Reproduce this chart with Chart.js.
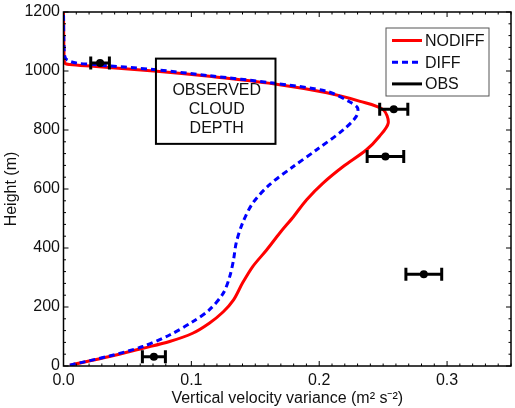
<!DOCTYPE html>
<html>
<head>
<meta charset="utf-8">
<script src="https://cdn.jsdelivr.net/npm/chart.js@4.4.0/dist/chart.umd.min.js"></script>
<style>
  html, body { margin: 0; padding: 0; background: #fff; }
</style>
</head>
<body>
<canvas id="varianceChart" width="515" height="408"></canvas>
<script>
/* ================= DATA ================= */

// NODIFF run: variance (m2 s-2) against height (m)
const nodiffX = [0.005, 0.036, 0.062, 0.083, 0.101, 0.114, 0.125, 0.133, 0.140, 0.148, 0.159, 0.169, 0.180, 0.190,
                 0.203, 0.219, 0.237, 0.247, 0.254, 0.250, 0.232, 0.206, 0.164, 0.114, 0.073, 0.023, 0.005, 0.001,
                 0.0004, 0.0];
const nodiffH = [3, 32, 60, 83, 111, 145, 184, 224, 281, 337, 394, 450, 507, 563,
                 620, 677, 733, 778, 824, 869, 897, 926, 957, 982, 999, 1016, 1022, 1027,
                 1061, 1200];

// DIFF run
const diffX = [0.005, 0.036, 0.062, 0.083, 0.101, 0.114, 0.125, 0.130, 0.133, 0.135, 0.140, 0.148, 0.161, 0.180,
               0.198, 0.219, 0.229, 0.230, 0.224, 0.206, 0.164, 0.114, 0.073, 0.023, 0.010, 0.003, 0.001, 0.0003,
               0.0];
const diffH = [3, 34, 66, 105, 150, 190, 247, 303, 360, 416, 484, 552, 614, 677,
               733, 801, 846, 875, 895, 931, 959, 984, 1004, 1022, 1027, 1037, 1050, 1100,
               1200];

// observations with horizontal error bars
const obsX   = [0.0286, 0.2583, 0.2518, 0.2818, 0.0707];
const obsH   = [1027, 870, 710, 311, 31];
const obsErr = [0.0073, 0.0110, 0.0143, 0.0140, 0.0090];

// axes
const xMin = 0, xMax = 0.35, xStep = 0.1, xMinorStep = 0.01;
const yMin = 0, yMax = 1200, yStep = 200, yMinorStep = 40;

const legendNames = ['NODIFF', 'DIFF', 'OBS'];
const cloudLabel = ['OBSERVED', 'CLOUD', 'DEPTH'];

/* ================= STYLE ================= */

const FONT = "'Liberation Sans', Arial, Helvetica, sans-serif";
const TEXT = '#111';
const RED = '#ff0000';
const BLUE = '#0000ff';

const toPoints = (xs, hs) => xs.map((v, i) => ({ x: v, y: hs[i] }));

/* ================= PLUGINS ================= */

// box round the plot with ticks pointing inward on every side
const frameTicks = {
    id: 'frameTicks',
    afterDatasetsDraw(chart) {
        const { ctx, chartArea: a, scales: { x, y } } = chart;
        ctx.save();
        ctx.strokeStyle = '#000';
        ctx.lineWidth = 1;
        ctx.beginPath();
        const nx = Math.round((xMax - xMin) / xMinorStep);
        for (let i = 0; i <= nx; i++) {
            const v = xMin + i * xMinorStep;
            const px = x.getPixelForValue(v);
            const len = i % Math.round(xStep / xMinorStep) === 0 ? 5 : 2.5;
            ctx.moveTo(px, a.bottom); ctx.lineTo(px, a.bottom - len);
            ctx.moveTo(px, a.top); ctx.lineTo(px, a.top + len);
        }
        const ny = Math.round((yMax - yMin) / yMinorStep);
        for (let i = 0; i <= ny; i++) {
            const v = yMin + i * yMinorStep;
            const py = y.getPixelForValue(v);
            const len = i % Math.round(yStep / yMinorStep) === 0 ? 5 : 2.5;
            ctx.moveTo(a.left, py); ctx.lineTo(a.left + len, py);
            ctx.moveTo(a.right, py); ctx.lineTo(a.right - len, py);
        }
        ctx.stroke();
        ctx.lineWidth = 1.5;
        ctx.strokeRect(a.left, a.top, a.right - a.left, a.bottom - a.top);
        ctx.restore();
    }
};

// the "observed cloud depth" text box
const cloudBox = {
    id: 'cloudBox',
    afterDatasetsDraw(chart) {
        const { ctx, scales: { x, y } } = chart;
        const left = x.getPixelForValue(0.0723);
        const right = x.getPixelForValue(0.1658);
        const top = y.getPixelForValue(1042);
        const bottom = y.getPixelForValue(753);
        ctx.save();
        ctx.strokeStyle = '#000';
        ctx.lineWidth = 2;
        ctx.strokeRect(left, top, right - left, bottom - top);
        ctx.fillStyle = TEXT;
        ctx.font = '16px ' + FONT;
        ctx.textAlign = 'center';
        ctx.textBaseline = 'middle';
        cloudLabel.forEach((t, i) => {
            ctx.fillText(t, (left + right) / 2 + 1, top + 32 + i * 19.2);
        });
        ctx.restore();
    }
};

// legend in the upper right corner of the plot
const boxLegend = {
    id: 'boxLegend',
    afterDraw(chart) {
        const { ctx, chartArea: a } = chart;
        const left = a.right - 125, top = a.top + 16, w = 103, h = 68;
        const styles = [
            { color: RED, dash: [] },
            { color: BLUE, dash: [6, 4] },
            { color: '#000', dash: [] }
        ];
        ctx.save();
        ctx.fillStyle = '#fff';
        ctx.fillRect(left, top, w, h);
        ctx.strokeStyle = '#555';
        ctx.lineWidth = 1;
        ctx.strokeRect(left, top, w, h);
        ctx.font = '16px ' + FONT;
        ctx.textBaseline = 'middle';
        legendNames.forEach((name, i) => {
            const ly = top + 12.5 + i * 21.7;
            ctx.strokeStyle = styles[i].color;
            ctx.setLineDash(styles[i].dash);
            ctx.lineWidth = 3;
            ctx.beginPath();
            ctx.moveTo(left + 6, ly);
            ctx.lineTo(left + 36, ly);
            ctx.stroke();
            ctx.fillStyle = TEXT;
            ctx.fillText(name, left + 39, ly + 1);
        });
        ctx.restore();
    }
};

/* ================= CHART ================= */

const errorBarSets = obsX.map((v, i) => ({
    label: 'OBS',
    data: [{ x: v - obsErr[i], y: obsH[i] }, { x: v + obsErr[i], y: obsH[i] }],
    showLine: true,
    borderColor: '#000',
    borderWidth: 3,
    pointStyle: 'line',
    rotation: 90,
    pointRadius: 6.5,
    pointBorderWidth: 3,
    pointBorderColor: '#000',
    order: 0
}));

const ctx = document.getElementById('varianceChart');

new Chart(ctx, {
    type: 'scatter',
    data: {
        datasets: [
            ...errorBarSets,
            {
                label: 'OBS',
                data: toPoints(obsX, obsH),
                pointRadius: 4,
                pointBackgroundColor: '#000',
                pointBorderColor: '#000',
                pointBorderWidth: 0,
                showLine: false,
                order: 0
            },
            {
                label: 'DIFF',
                data: toPoints(diffX, diffH),
                showLine: true,
                borderColor: BLUE,
                borderWidth: 3,
                borderDash: [6, 4],
                pointRadius: 0,
                tension: 0.3,
                order: 1
            },
            {
                label: 'NODIFF',
                data: toPoints(nodiffX, nodiffH),
                showLine: true,
                borderColor: RED,
                borderWidth: 3,
                pointRadius: 0,
                tension: 0.3,
                order: 2
            }
        ]
    },
    options: {
        responsive: false,
        animation: false,
        layout: { autoPadding: false, padding: { top: 12, right: 4, left: 0, bottom: 0 } },
        plugins: {
            legend: { display: false },
            tooltip: { enabled: false }
        },
        scales: {
            x: {
                type: 'linear',
                min: xMin,
                max: xMax,
                grid: { display: false, drawTicks: false },
                border: { display: false },
                ticks: {
                    stepSize: xStep,
                    includeBounds: false,
                    padding: 5,
                    color: TEXT,
                    font: { family: FONT, size: 16 },
                    callback: value => value.toFixed(1)
                },
                title: {
                    display: true,
                    text: 'Vertical velocity variance (m\u00B2 s\u207B\u00B2)',
                    color: TEXT,
                    font: { family: FONT, size: 16 },
                    padding: { top: 0, bottom: 0 }
                },
                afterFit: scale => {
                    scale.height = 42;
                    scale.paddingLeft = 0;
                    scale.paddingRight = 0;
                }
            },
            y: {
                type: 'linear',
                min: yMin,
                max: yMax,
                grid: { display: false, drawTicks: false },
                border: { display: false },
                ticks: {
                    stepSize: yStep,
                    padding: 3.5,
                    color: TEXT,
                    font: { family: FONT, size: 16 },
                    callback: value => String(value)
                },
                title: {
                    display: true,
                    text: 'Height (m)',
                    color: TEXT,
                    font: { family: FONT, size: 16 },
                    padding: { top: 2, bottom: 0 }
                },
                afterFit: scale => {
                    scale.width = 63.5;
                    scale.paddingTop = 0;
                    scale.paddingBottom = 0;
                }
            }
        }
    },
    plugins: [frameTicks, cloudBox, boxLegend]
});
</script>
</body>
</html>
